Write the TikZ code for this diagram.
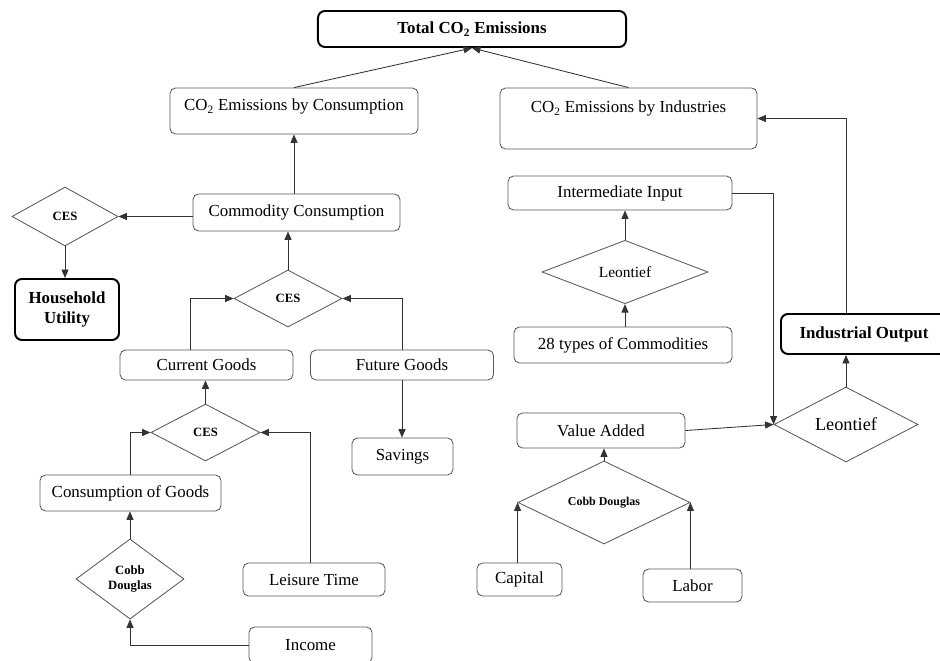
\documentclass[tikz,border=0pt]{standalone}
\usepackage{fontspec}
\setmainfont{Liberation Serif}
\usetikzlibrary{shapes.geometric,arrows.meta}

\tikzset{
 box/.style={draw=black!65, line width=0.6pt, rounded corners=4pt, fill=white, inner sep=0pt, font=\fontsize{12}{14}\selectfont},
 bigbox/.style={draw=black, line width=1.4pt, rounded corners=5pt, fill=white, inner sep=0pt, align=center, font=\fontsize{12}{14}\selectfont\bfseries},
 choice/.style={diamond, draw=black!65, line width=0.6pt, fill=white, inner sep=0pt, align=center},
 link/.style={draw=black!80, line width=0.6pt, -{Triangle[length=6pt,width=5pt]}},
}

\begin{document}
\begin{tikzpicture}[x=0.025cm,y=-0.025cm]
\useasboundingbox (0,0) rectangle (940,661);

 \node[bigbox, minimum width=7.7cm, minimum height=0.9cm] (total) at (472,29) {Total CO\textsubscript{2} Emissions};
 \node[box, minimum width=6.2cm, text height=0.565cm, text depth=0.585cm] (consco2) at (294,111) {CO\textsubscript{2} Emissions by Consumption};
 \node[box, minimum width=6.425cm, text height=0.6125cm, text depth=0.9125cm] (indco2) at (628.5,118.5) {CO\textsubscript{2} Emissions by Industries};

 % consumption side
 \node[box, minimum width=5.175cm, minimum height=0.925cm] (comcons) at (296.5,212.5) {Commodity Consumption};
 \node[choice, minimum width=2.65cm, minimum height=1.475cm, font=\fontsize{9}{10}\selectfont\bfseries] (ces1) at (65,216.5) {CES};
 \node[bigbox, minimum width=2.6cm, minimum height=1.525cm] (utility) at (67,309.5) {Household\\Utility};
 \node[choice, minimum width=2.7cm, minimum height=1.425cm, font=\fontsize{9}{10}\selectfont\bfseries] (ces2) at (288,298.5) {CES};
 \node[box, minimum width=4.325cm, minimum height=0.75cm] (current) at (206.5,365) {Current Goods};
 \node[box, minimum width=4.575cm, minimum height=0.75cm] (future) at (402,365) {Future Goods};
 \node[box, minimum width=2.525cm, minimum height=0.925cm] (savings) at (402.5,456.5) {Savings};
 \node[choice, minimum width=2.725cm, minimum height=1.425cm, font=\fontsize{9}{10}\selectfont\bfseries] (ces3) at (205.5,432.5) {CES};
 \node[box, minimum width=4.525cm, minimum height=0.9cm] (consgoods) at (130.5,493) {Consumption of Goods};
 \node[box, minimum width=3.55cm, minimum height=0.825cm] (leisure) at (314,579.5) {Leisure Time};
 \node[choice, minimum width=2.7cm, minimum height=2cm, font=\fontsize{9}{10}\selectfont\bfseries] (cobb1) at (130,579) {Cobb\\Douglas};
 \node[box, minimum width=3.075cm, minimum height=0.9cm] (income) at (310.5,645) {Income};

 % industry side
 \node[box, minimum width=5.6cm, minimum height=0.85cm] (interm) at (620,193) {Intermediate Input};
 \node[choice, minimum width=4.15cm, minimum height=1.25cm, font=\fontsize{11}{12}\selectfont] (leon1) at (625,272) {Leontief};
 \node[box, minimum width=5.45cm, minimum height=0.9cm] (comm28) at (623,345) {28 types of Commodities};
 \node[bigbox, minimum width=4.15cm, minimum height=1cm] (indout) at (864,334) {Industrial Output};
 \node[choice, minimum width=3.6cm, minimum height=1.425cm, font=\fontsize{13}{14}\selectfont] (leon2) at (846,424.5) {Leontief};
 \node[box, minimum width=4.2cm, minimum height=0.875cm] (valadd) at (601,430.5) {Value Added};
 \node[choice, minimum width=4.3cm, minimum height=1.375cm, font=\fontsize{8.5}{10}\selectfont\bfseries] (cobb2) at (604,502.5) {Cobb Douglas};
 \node[box, minimum width=2.125cm, minimum height=0.825cm] (capital) at (519.5,579.5) {Capital};
 \node[box, minimum width=2.475cm, minimum height=0.825cm] (labor) at (692.5,585.5) {Labor};

 \draw[link] (consco2.north) -- (total.south);
 \draw[link] (indco2.north) -- (total.south);
 \draw[link] (comcons.north -| consco2.south) -- (consco2.south);
 \draw[link] (comcons.west |- ces1.east) -- (ces1.east);
 \draw[link] (ces1.south) -- (ces1.south |- utility.north);
 \draw[link] (ces2.north) -- (ces2.north |- comcons.south);
 \draw[link] ([xshift=-0.4cm]current.north) |- (ces2.west);
 \draw[link] (future.north) |- (ces2.east);
 \draw[link] (future.south) -- (future.south |- savings.north);
 \draw[link] (ces3.north) -- (ces3.north |- current.south);
 \draw[link] (consgoods.north) |- (ces3.west);
 \draw[link] ([xshift=-0.1cm]leisure.north) |- (ces3.east);
 \draw[link] (cobb1.north) -- (cobb1.north |- consgoods.south);
 \draw[link] (income.west) -| (cobb1.south);

 \draw[link] (leon1.north) -- (leon1.north |- interm.south);
 \draw[link] (comm28.north -| leon1.south) -- (leon1.south);
 \draw[link] (interm.east) -| (leon2.west);
 \draw[link] (valadd.east) -- (leon2.west);
 \draw[link] (leon2.north) -- (leon2.north |- indout.south);
 \draw[link] (indout.north -| leon2.north) |- (indco2.east);
 \draw[link] (cobb2.north) -- (cobb2.north |- valadd.south);
 \draw[link] (capital.north -| cobb2.west) -- (cobb2.west);
 \draw[link] (labor.north -| cobb2.east) -- (cobb2.east);
\end{tikzpicture}
\end{document}
